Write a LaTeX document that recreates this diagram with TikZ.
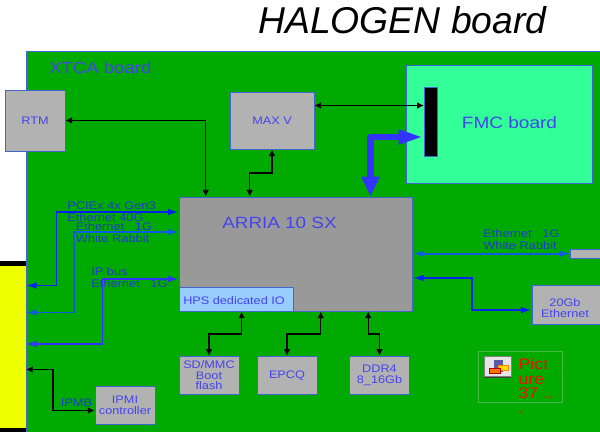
\documentclass[tikz,border=0pt]{standalone}
\usepackage{fontspec}
\setmainfont[FakeStretch=1.16]{Liberation Sans}
\newfontfamily\titleFont{Liberation Sans}
\usetikzlibrary{calc}
\usetikzlibrary{arrows.meta}
\definecolor{boardGreen}{RGB}{0,170,0}
\definecolor{fmcGreen}{RGB}{51,255,153}
\definecolor{boxGrey}{RGB}{178,178,178}
\definecolor{fpgaGrey}{RGB}{153,153,153}
\definecolor{hpsBlue}{RGB}{153,204,255}
\definecolor{edgeBlue}{RGB}{68,102,204}
\definecolor{textBlue}{RGB}{68,68,238}
\definecolor{busBlue}{RGB}{30,60,205}
\definecolor{linkBlue}{RGB}{0,34,238}
\definecolor{thickBlue}{RGB}{51,51,255}
\definecolor{wrBlue}{RGB}{20,90,225}
\definecolor{backYellow}{RGB}{238,255,0}
\definecolor{pictGreen}{RGB}{68,187,68}
\definecolor{pictRed}{RGB}{238,17,0}
\tikzset{
    greyBox/.style={
        ,   draw=edgeBlue
        ,   fill=boxGrey
        ,   text=textBlue
        ,   line width=0.6pt
        ,   inner sep=0pt
        ,   align=center
        ,   font=\fontsize{8.2pt}{8pt}\selectfont
    },
    busLabel/.style={
        ,   text=busBlue
        ,   inner sep=0pt
        ,   anchor=west
        ,   align=left
        ,   font=\fontsize{8.3pt}{9.5pt}\selectfont
    },
    boardLabel/.style={
        ,   text=textBlue
        ,   inner sep=0pt
        ,   font=\fontsize{#1}{14pt}\selectfont
    },
    blackLink/.style={
        ,   draw=black
        ,   line width=1.1pt
        ,   {Latex[length=5pt,width=5pt]}-{Latex[length=5pt,width=5pt]}
    },
    blueLink/.style={
        ,   draw=#1
        ,   line width=1.1pt
        ,   {Latex[length=8pt,width=5pt]}-{Latex[length=8pt,width=5pt]}
    },
}
\begin{document}
\begin{tikzpicture}[x=0.75pt,y=-0.75pt]
\useasboundingbox (0,0) rectangle (600,432);
% backgrounds
\fill[white] (0,0) rectangle (600,432);
\fill[black] (0,261) rectangle (26,432);
\fill[backYellow] (0,266) rectangle (26,428);
\path[draw=edgeBlue,fill=boardGreen,line width=0.6pt] (26,51) -- (600,51) -- (600,432) -- (26,432) -- cycle;

\node[font=\titleFont\fontsize{28pt}{30pt}\itshape\selectfont,inner sep=0pt] (title) at (402.5,20.5) {HALOGEN board};
\node[boardLabel=12pt,anchor=west] (xtca) at (49,67.5) {XTCA board};

% boxes
\node[greyBox,minimum width=45pt,minimum height=45.6pt] (rtm) at (35,120.5) {RTM};
\node[greyBox,minimum width=63pt,minimum height=42.75pt] (maxv) at (272,120.5) {MAX V};
\node[draw=edgeBlue,fill=fmcGreen,minimum width=139pt,minimum height=88.5pt,inner sep=0pt,line width=0.6pt] (fmc) at (499.5,124) {};
\node[boardLabel=12.3pt] (fmcLabel) at (509.5,122.5) {FMC board};
\node[draw=edgeBlue,fill=black,minimum width=9.5pt,minimum height=51.5pt,inner sep=0pt] (fmcConn) at (430.5,121.5) {};
\node[draw=edgeBlue,fill=fpgaGrey,minimum width=175pt,minimum height=85.5pt,inner sep=0pt,line width=0.6pt] (arria) at (295.8,254) {};
\node[boardLabel=12.2pt] (arriaLabel) at (279.5,222.5) {ARRIA 10 SX};
\node[greyBox,fill=hpsBlue,minimum width=85.5pt,minimum height=17.5pt] (hps) at (236,299.5) {};
\node[text=textBlue,font=\fontsize{8.2pt}{9.4pt}\selectfont,inner sep=0pt,anchor=west] (hpsLabel) at (183,301) {HPS dedicated IO};
\node[greyBox,minimum width=45pt,minimum height=28.5pt] (sdmmc) at (209,375.3) {SD/MMC\\Boot\\flash};
\node[greyBox,minimum width=45pt,minimum height=28.5pt] (epcq) at (287,375.3) {EPCQ};
\node[greyBox,minimum width=45pt,minimum height=28.5pt] (ddr) at (379.5,375.3) {DDR4\\[0.5pt]8\_16Gb};
\node[greyBox,minimum width=45pt,minimum height=28.5pt] (ipmi) at (125,405) {IPMI\\controller};
\node[greyBox,minimum width=51pt,minimum height=29pt] (eth20) at (566,305) {};
\node[boardLabel=8.2pt,align=center,font=\fontsize{8.2pt}{8.8pt}\selectfont] (eth20Label) at (565,308) {20Gb\\Ethernet};
\node[greyBox,minimum width=22pt,minimum height=7pt] (sfp) at (585.5,253.7) {};

% connectors
\coordinate (backP) at (26,285.5);
\coordinate (backE) at (26,312.5);
\coordinate (backI) at (26,344);
\coordinate (backM) at (26,369.5);
\coordinate (thickBend) at (370.5,137);
\coordinate (maxvPort) at ($(maxv.east)+(0,-15)$);
\draw[blackLink] (rtm.east) -| ($(arria.north west)+(27,0)$);
\draw[blackLink] (maxv.south) -- ++(0,23.5) -| ($(arria.north west)+(71,0)$);
\draw[blackLink] (maxvPort) -- (maxvPort -| fmcConn.west);
\draw[draw=thickBlue,line width=5pt,line join=round,{Triangle[length=15pt,width=13pt]}-{Triangle[length=19pt,width=10pt]}] (thickBend |- arria.north) -- (thickBend) -- (thickBend -| fmcConn.west);
\draw[blueLink=linkBlue,line width=1.3pt] (backP) -- (56.5,285.5) |- (arria.west |- 0,212);
\draw[blueLink=wrBlue] (backE) -- (74,312.5) |- (arria.west |- 0,232);
\draw[blueLink=thickBlue] (backI) -- (102.5,344) |- (arria.west |- 0,279);
\draw[blackLink] (backM) -- (53,369.5) |- ($(ipmi.west)+(0,5.5)$);
\draw[blackLink] ($(hps.south west)+(63,0)$) -- ++(0,22.5) -| (sdmmc.north);
\draw[blackLink] ($(arria.south west)+(142,0)$) -- ++(0,22.5) -| (epcq.north);
\draw[blackLink] ($(arria.south west)+(189.5,0)$) -- ++(0,22.5) -| (ddr.north);
\draw[blueLink=wrBlue,line width=1.4pt] (arria.east |- sfp.west) -- (sfp.west);
\draw[blueLink=linkBlue] (arria.east |- 0,278) -- (472,278) |- ($(eth20.west)+(0,5)$);

% bus labels
\node[busLabel] (pcie) at (67,206) {PCIEx 4x Gen3};
\node[busLabel] (eth40) at (67,217.5) {Ethernet 40G};
\node[busLabel] (eth1a) at (75.5,226.5) {Ethernet\hspace{8pt}1G};
\node[busLabel] (wr) at (75.5,239) {White Rabbit};
\node[busLabel] (ipbus) at (91,272) {IP bus};
\node[busLabel] (eth1b) at (91,284) {Ethernet\hspace{8pt}1G};
\node[busLabel] (ipmb) at (60.5,403) {IPMB};
\node[busLabel] (eth1c) at (483,234) {Ethernet\hspace{8pt}1G};
\node[busLabel] (wrb) at (483,245.5) {White Rabbit};

% placeholder picture
\node[draw=pictGreen,minimum width=63.3pt,minimum height=38.3pt,inner sep=0pt] (pict) at (520.5,377) {};
\node[text=pictRed,font=\fontsize{11.5pt}{11pt}\selectfont,inner sep=0pt,anchor=north west,align=left] (pictText) at (518.3,358) {Pict\\ure\\37 ..\\.};
\fill[black!75] (484.3,374) rectangle (511,377.7);
\fill[black!10,draw=gray] (484.3,356.7) rectangle (511,376);
\fill[gray!70!blue] (494.3,360) rectangle (503,371.7);
\fill[yellow!80!orange,draw=orange] (498.3,365) rectangle (508.3,370.7);
\fill[orange!90!red,draw=red!70!black] (489.3,368.3) rectangle (500,373.3);
\end{tikzpicture}
\end{document}
